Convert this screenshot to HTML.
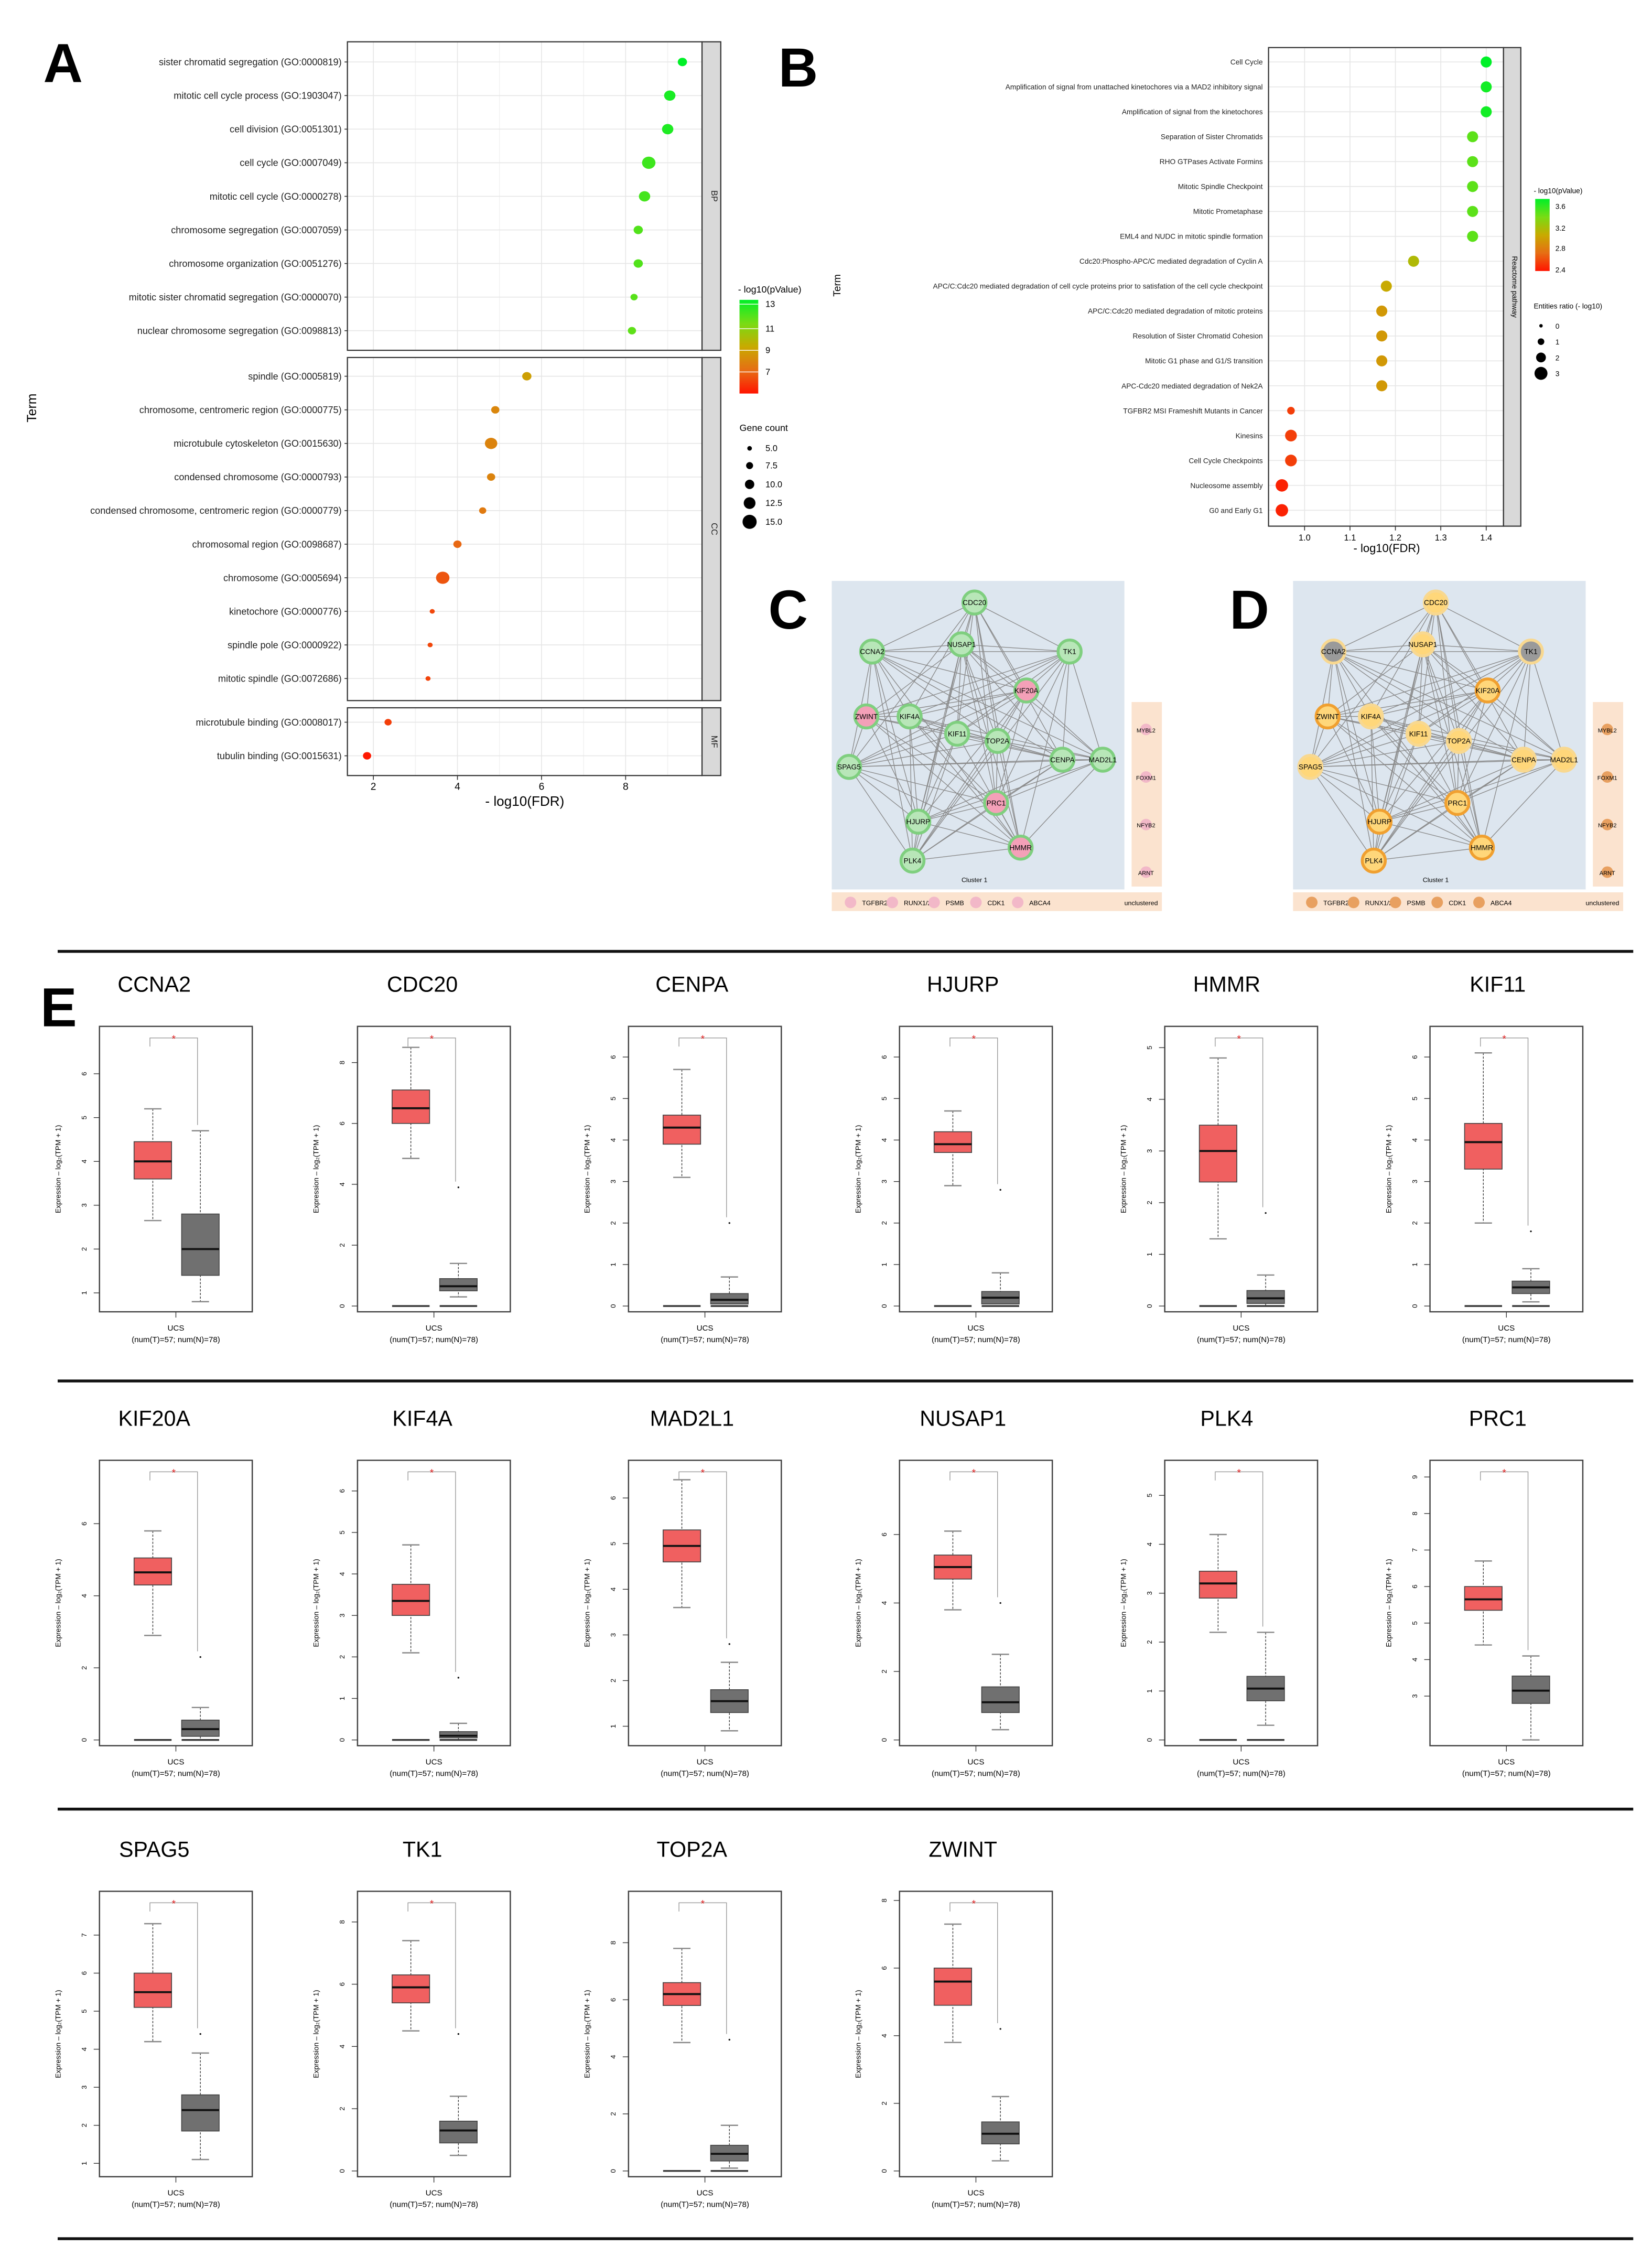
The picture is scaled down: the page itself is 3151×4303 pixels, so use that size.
<!DOCTYPE html>
<html><head><meta charset="utf-8">
<style>
html,body{margin:0;padding:0;background:#fff}
svg{display:block}
text{font-family:"Liberation Sans",sans-serif}
</style></head>
<body>
<svg id="fig" width="3151" height="4303" viewBox="0 0 1146 1565" xmlns="http://www.w3.org/2000/svg"></svg>
<script>
// ===== Panel A data =====
const aTermsBP=["sister chromatid segregation (GO:0000819)","mitotic cell cycle process (GO:1903047)","cell division (GO:0051301)","cell cycle (GO:0007049)","mitotic cell cycle (GO:0000278)","chromosome segregation (GO:0007059)","chromosome organization (GO:0051276)","mitotic sister chromatid segregation (GO:0000070)","nuclear chromosome segregation (GO:0098813)"];
const aFdrBP=[9.35,9.05,9.0,8.55,8.45,8.3,8.3,8.2,8.15];
const aCountBP=[9,11,11,13,11,9,9,7,8];
const aPBP=[13,12.6,12.5,12,11.9,11.7,11.7,11.6,11.5];
const aTermsCC=["spindle (GO:0005819)","chromosome, centromeric region (GO:0000775)","microtubule cytoskeleton (GO:0015630)","condensed chromosome (GO:0000793)","condensed chromosome, centromeric region (GO:0000779)","chromosomal region (GO:0098687)","chromosome (GO:0005694)","kinetochore (GO:0000776)","spindle pole (GO:0000922)","mitotic spindle (GO:0072686)"];
const aFdrCC=[5.65,4.9,4.8,4.8,4.6,4.0,3.65,3.4,3.35,3.3];
const aCountCC=[9,8,12,8,7,8,13,5,5,5];
const aPCC=[8.8,8.0,7.9,7.9,7.6,7.1,6.7,6.4,6.4,6.3];
const aTermsMF=["microtubule binding (GO:0008017)","tubulin binding (GO:0015631)"];
const aFdrMF=[2.35,1.85];
const aCountMF=[7,8];
const aPMF=[6.2,5.4];
const aXTicks=[2,4,6,8];
// ===== Panel B data =====
const bTerms=["Cell Cycle","Amplification of signal from unattached kinetochores via a MAD2 inhibitory signal","Amplification of signal from the kinetochores","Separation of Sister Chromatids","RHO GTPases Activate Formins","Mitotic Spindle Checkpoint","Mitotic Prometaphase","EML4 and NUDC in mitotic spindle formation","Cdc20:Phospho-APC/C mediated degradation of Cyclin A","APC/C:Cdc20 mediated degradation of cell cycle proteins prior to satisfation of the cell cycle checkpoint","APC/C:Cdc20 mediated degradation of mitotic proteins","Resolution of Sister Chromatid Cohesion","Mitotic G1 phase and G1/S transition","APC-Cdc20 mediated degradation of Nek2A","TGFBR2 MSI Frameshift Mutants in Cancer","Kinesins","Cell Cycle Checkpoints","Nucleosome assembly","G0 and Early G1"];
const bFdr=[1.40,1.40,1.40,1.37,1.37,1.37,1.37,1.37,1.24,1.18,1.17,1.17,1.17,1.17,0.97,0.97,0.97,0.95,0.95];
const bP=[3.7,3.6,3.6,3.4,3.4,3.4,3.4,3.4,3.1,3.0,2.9,2.9,2.9,2.9,2.5,2.5,2.5,2.4,2.4];
const bRatio=[2.2,2.2,2.2,2.2,2.2,2.2,2.2,2.2,2.2,2.2,2.2,2.2,2.2,2.2,1.2,2.4,2.4,2.6,2.6];
const bXTicks=[1.0,1.1,1.2,1.3,1.4];
// ===== Panel E data =====
const eGenes=["CCNA2","CDC20","CENPA","HJURP","HMMR","KIF11","KIF20A","KIF4A","MAD2L1","NUSAP1","PLK4","PRC1","SPAG5","TK1","TOP2A","ZWINT"];
const eYMin=[0.7,0,0,0,0,0,0,0,0.7,0,0,1.8,0.8,0,0,0];
const eYMax=[6.95,9,6.6,6.6,5.3,6.6,7.6,6.6,6.7,8,5.6,9.3,8,8.8,9.6,8.1];
const eTicks=[[1,2,3,4,5,6],[0,2,4,6,8],[0,1,2,3,4,5,6],[0,1,2,3,4,5,6],[0,1,2,3,4,5],[0,1,2,3,4,5,6],[0,2,4,6],[0,1,2,3,4,5,6],[1,2,3,4,5,6],[0,2,4,6],[0,1,2,3,4,5],[3,4,5,6,7,8,9],[1,2,3,4,5,6,7],[0,2,4,6,8],[0,2,4,6,8],[0,2,4,6,8]];
// tumor: q1, median, q3, whisker low, whisker high
const eTumor=[[3.6,4.0,4.45,2.65,5.2],[6.0,6.5,7.1,4.85,8.5],[3.9,4.3,4.6,3.1,5.7],[3.7,3.9,4.2,2.9,4.7],[2.4,3.0,3.5,1.3,4.8],[3.3,3.95,4.4,2.0,6.1],[4.3,4.65,5.05,2.9,5.8],[3.0,3.35,3.75,2.1,4.7],[4.6,4.95,5.3,3.6,6.4],[4.7,5.05,5.4,3.8,6.1],[2.9,3.2,3.45,2.2,4.2],[5.35,5.65,6.0,4.4,6.7],[5.1,5.5,6.0,4.2,7.3],[5.4,5.9,6.3,4.5,7.4],[5.8,6.2,6.6,4.5,7.8],[4.9,5.6,6.0,3.8,7.3]];
const eNormal=[[1.4,2.0,2.8,0.8,4.7],[0.5,0.65,0.9,0.3,1.4],[0.05,0.15,0.3,0,0.7],[0.05,0.2,0.35,0,0.8],[0.05,0.15,0.3,0,0.6],[0.3,0.45,0.6,0.1,0.9],[0.1,0.3,0.55,0,0.9],[0.05,0.1,0.2,0,0.4],[1.3,1.55,1.8,0.9,2.4],[0.8,1.1,1.55,0.3,2.5],[0.8,1.05,1.3,0.3,2.2],[2.8,3.15,3.55,1.8,4.1],[1.85,2.4,2.8,1.1,3.9],[0.9,1.3,1.6,0.5,2.4],[0.35,0.6,0.9,0.1,1.6],[0.8,1.1,1.45,0.3,2.2]];
const eNormalOutlier=[null,3.9,2.0,2.8,1.8,1.8,2.3,1.5,2.8,4.0,null,null,4.4,4.4,4.6,4.2];
const eZeroBar=[false,true,true,true,true,true,true,true,false,false,true,false,false,false,true,false];

const NS="http://www.w3.org/2000/svg";
const svg=document.getElementById('fig');
function el(tag,attrs,parent,txt){const e=document.createElementNS(NS,tag);for(const k in attrs)e.setAttribute(k,attrs[k]);if(txt!==undefined)e.textContent=txt;(parent||svg).appendChild(e);return e;}
function grp(name){const g=el('g',{});return g;}
function lerpC(a,b,t){return [0,1,2].map(i=>Math.round(a[i]+(b[i]-a[i])*t));}
function gradColor(t){
  t=Math.max(0,Math.min(1,t));
  const stops=[[255,20,0],[230,110,20],[200,170,0],[120,220,20],[0,240,40]];
  const s=t*(stops.length-1),i=Math.min(stops.length-2,Math.floor(s));
  const c=lerpC(stops[i],stops[i+1],s-i);return `rgb(${c})`;
}

// ===== Panel A =====
(function(){
  const g=grp('panel-a');
  const lt=el('text',{x:30,y:57,'font-size':38,'font-weight':'bold'},g,'A');
  
  const x0=241,x1=487;
  const xs=v=>259+(v-2)*(434-259)/6;
  const facets=[{name:'BP',y0:29,y1:243,terms:aTermsBP,f:aFdrBP,c:aCountBP,p:aPBP,first:43},
                {name:'CC',y0:248,y1:486,terms:aTermsCC,f:aFdrCC,c:aCountCC,p:aPCC,first:261},
                {name:'MF',y0:491,y1:538,terms:aTermsMF,f:aFdrMF,c:aCountMF,p:aPMF,first:501}];
  const step=23.3;
  facets.forEach(fc=>{
    const fg=el('g',{},g);
    el('rect',{x:x0,y:fc.y0,width:x1-x0,height:fc.y1-fc.y0,fill:'#fff'},fg);
    [1,2,3,4,5,6,7,8,9].forEach(v=>{const x=xs(v);if(x>x0&&x<x1)el('line',{x1:x,x2:x,y1:fc.y0,y2:fc.y1,stroke:v%2==0?'#e6e6e6':'#f2f2f2','stroke-width':0.6},fg);});
    fc.terms.forEach((t,i)=>{
      const y=fc.first+i*step;
      el('line',{x1:x0,x2:x1,y1:y,y2:y,stroke:'#e6e6e6','stroke-width':0.6},fg);
      const lab=el('text',{x:x0-4,y:y+2.3,'font-size':6.6,'text-anchor':'end',fill:'#222'},fg,t);
      
      el('line',{x1:x0-2,x2:x0,y1:y,y2:y,stroke:'#333','stroke-width':0.6},fg);
      const r=1.6+(fc.c[i]-5)*0.33;
      const d=el('ellipse',{cx:xs(fc.f[i]),cy:y,rx:r*1.1,ry:r,fill:gradColor((fc.p[i]-5.3)/7.7)},fg);
      
    });
    el('rect',{x:x0,y:fc.y0,width:x1-x0,height:fc.y1-fc.y0,fill:'none',stroke:'#333','stroke-width':0.8},fg);
    el('rect',{x:x1,y:fc.y0,width:13,height:fc.y1-fc.y0,fill:'#d9d9d9',stroke:'#333','stroke-width':0.8},fg);
    const sm=(fc.y0+fc.y1)/2;
    const st=el('text',{x:x1+6.5,y:sm,'font-size':6,'text-anchor':'middle',transform:`rotate(90 ${x1+6.5} ${sm})`,fill:'#222'},fg,fc.name);
    
  });
  aXTicks.forEach(v=>{const x=xs(v);el('line',{x1:x,x2:x,y1:538,y2:541,stroke:'#333','stroke-width':0.6},g);
    const t=el('text',{x:x,y:548,'font-size':7,'text-anchor':'middle'},g,String(v));});
  const xt=el('text',{x:364,y:559,'font-size':9.5,'text-anchor':'middle'},g,'- log10(FDR)');
  const yt=el('text',{x:25,y:283,'font-size':9,'text-anchor':'middle',transform:'rotate(-90 25 283)'},g,'Term');
  const lg=el('g',{},g);
  el('text',{x:512,y:203,'font-size':6.5},lg,'- log10(pValue)');
  const defs=el('defs',{},svg);const lgd=el('linearGradient',{id:'gA',x1:0,y1:1,x2:0,y2:0},defs);
  [0,0.25,0.5,0.75,1].forEach(o=>el('stop',{offset:o,'stop-color':gradColor(o)},lgd));
  el('rect',{x:513,y:208,width:13,height:65,fill:'url(#gA)'},lg);
  [[13,211],[11,228],[9,243],[7,258]].forEach(([v,y])=>{el('line',{x1:513,x2:526,y1:y,y2:y,stroke:'#fff','stroke-width':0.5},lg);el('text',{x:531,y:y+2,'font-size':6},lg,String(v));});
  const lg2=el('g',{},g);
  el('text',{x:513,y:299,'font-size':6.5},lg2,'Gene count');
  [[5,311],[7.5,323],[10,336],[12.5,349],[15,362]].forEach(([v,y])=>{el('circle',{cx:520,cy:y,r:1.6+(v-5)*0.33},lg2);el('text',{x:531,y:y+2,'font-size':6},lg2,v.toFixed(1));});
})();

// ===== Panel B =====
(function(){
  const g=grp('panel-b');
  const lt=el('text',{x:540,y:60,'font-size':38,'font-weight':'bold'},g,'B');
  const x0=880,x1=1043,y0=33,y1=365;
  const xs=v=>905+(v-1.0)*(1031-905)/0.4;
  el('rect',{x:x0,y:y0,width:x1-x0,height:y1-y0,fill:'#fff'},g);
  bXTicks.forEach(v=>el('line',{x1:xs(v),x2:xs(v),y1:y0,y2:y1,stroke:'#e6e6e6','stroke-width':0.6},g));
  const step=(354-43)/18;
  bTerms.forEach((t,i)=>{
    const y=43+i*step;
    el('line',{x1:x0,x2:x1,y1:y,y2:y,stroke:'#e6e6e6','stroke-width':0.6},g);
    const lab=el('text',{x:x0-4,y:y+1.8,'font-size':5,'text-anchor':'end',fill:'#222'},g,t);
    const r=1.2+bRatio[i]*1.2;
    const d=el('circle',{cx:xs(bFdr[i]),cy:y,r:r,fill:gradColor((bP[i]-2.35)/1.3)},g);
  });
  el('rect',{x:x0,y:y0,width:x1-x0,height:y1-y0,fill:'none',stroke:'#333','stroke-width':0.8},g);
  el('rect',{x:x1,y:y0,width:12,height:y1-y0,fill:'#d9d9d9',stroke:'#333','stroke-width':0.8},g);
  el('text',{x:x1+6,y:199,'font-size':5,'text-anchor':'middle',transform:`rotate(90 ${x1+6} 199)`},g,'Reactome pathway');
  bXTicks.forEach(v=>{el('line',{x1:xs(v),x2:xs(v),y1:y1,y2:y1+3,stroke:'#333','stroke-width':0.6},g);
    const t=el('text',{x:xs(v),y:y1+10,'font-size':6,'text-anchor':'middle'},g,v.toFixed(1));});
  const xt=el('text',{x:962,y:383,'font-size':8,'text-anchor':'middle'},g,'- log10(FDR)');
  const yt=el('text',{x:583,y:198,'font-size':7,'text-anchor':'middle',transform:'rotate(-90 583 198)'},g,'Term');
  const lg=el('g',{},g);
  el('text',{x:1064,y:134,'font-size':5},lg,'- log10(pValue)');
  el('rect',{x:1065,y:138,width:10,height:50,fill:'url(#gA)'},lg);
  [[3.6,145],[3.2,160],[2.8,174],[2.4,189]].forEach(([v,y])=>el('text',{x:1079,y:y,'font-size':5},lg,v.toFixed(1)));
  const lg2=el('g',{},g);
  el('text',{x:1064,y:214,'font-size':5},lg2,'Entities ratio (- log10)');
  [[0,226],[1,237],[2,248],[3,259]].forEach(([v,y])=>{el('circle',{cx:1069,cy:y,r:1.2+v*1.1},lg2);el('text',{x:1079,y:y+2,'font-size':5},lg2,String(v));});
})();

// ===== Panels C & D (networks) =====
const netNodes=[["CDC20",676,418],["NUSAP1",667,447],["CCNA2",605,452],["TK1",742,452],["KIF20A",712,479],["ZWINT",601,497],["KIF4A",631,497],["KIF11",664,509],["TOP2A",692,514],["CENPA",737,527],["MAD2L1",765,527],["SPAG5",589,532],["PRC1",691,557],["HJURP",637,570],["HMMR",708,588],["PLK4",633,597]];
function network(dx,name,letter,fillFn,strokeFn){
  const g=grp(name);
  const lt=el('text',{x:533+dx,y:436,'font-size':38,'font-weight':'bold'},g,letter);
  el('rect',{x:577+dx,y:403,width:203,height:214,fill:'#dde6ef'},g);
  el('rect',{x:785+dx,y:487,width:21,height:128,fill:'#fbe3cf'},g);
  el('rect',{x:577+dx,y:619,width:229,height:13,fill:'#fbe3cf'},g);
  ["MYBL2","FOXM1","NFYB2","ARNT"].forEach((s,i)=>{el('circle',{cx:795+dx,cy:506+i*33,r:4,fill:fillFn('side')},g);el('text',{x:795+dx,y:508+i*33,'font-size':4,'text-anchor':'middle'},g,s);});
  ["TGFBR2","RUNX1/2B","PSMB","CDK1","ABCA4"].forEach((s,i)=>{el('circle',{cx:590+dx+i*29,cy:626,r:4,fill:fillFn('side')},g);el('text',{x:598+dx+i*29,y:628,'font-size':4.5},g,s);});
  el('text',{x:780+dx,y:628,'font-size':4.5},g,'unclustered');
  el('text',{x:676+dx,y:612,'font-size':4.5,'text-anchor':'middle'},g,'Cluster 1');
  for(let i=0;i<netNodes.length;i++)for(let j=i+1;j<netNodes.length;j++){
    if((i*7+j*3)%5===0)continue;
    el('line',{x1:netNodes[i][1]+dx,y1:netNodes[i][2],x2:netNodes[j][1]+dx,y2:netNodes[j][2],stroke:'#8a8a8a','stroke-width':0.5},g);
  }
  netNodes.forEach(n=>{
    const c=el('circle',{cx:n[1]+dx,cy:n[2],r:8,fill:fillFn(n[0]),stroke:strokeFn(n[0]),'stroke-width':2},g);
    
    el('text',{x:n[1]+dx,y:n[2]+1.8,'font-size':5,'text-anchor':'middle'},g,n[0]);
  });
}
const pink=["ZWINT","KIF20A","PRC1","HMMR"];
network(0,'panel-c','C',n=>n==='side'?'#f2b8c8':(pink.includes(n)?'#f4a0b8':'#b8e6b8'),n=>'#7fcf7f');
network(320,'panel-d','D',n=>n==='side'?'#e8a060':(n==='CCNA2'||n==='TK1'?'#9a9a9a':'#ffd77a'),n=>(pink.includes(n)||n==='HJURP'||n==='PLK4')?'#f0a030':'#f8d890');

// ===== Panel E =====
(function(){
  const g=grp('panel-e');
  [660,958,1255,1553].forEach(y=>{const l=el('line',{x1:40,x2:1133,y1:y,y2:y,stroke:'#111','stroke-width':2},g);});
  const lt=el('text',{x:28,y:712,'font-size':38,'font-weight':'bold'},g,'E');
  const colL=[69,248,436,624,808,992];
  const titleX=[107,293,480,668,851,1039];
  const rowT=[712,1013,1312];
  eGenes.forEach((gene,k)=>{
    const r=Math.floor(k/6),c=k%6;
    const fx=colL[c],fy=rowT[r],fw=106,fh=198;
    const pg=el('g',{},g);
    const tt=el('text',{x:titleX[c],y:fy-24,'font-size':15,'text-anchor':'middle'},pg,gene);
    el('rect',{x:fx,y:fy,width:fw,height:fh,fill:'#fff',stroke:'#444','stroke-width':0.9},pg);
    const ys=v=>fy+fh-4-(v-eYMin[k])/(eYMax[k]-eYMin[k])*(fh-8);
    eTicks[k].forEach(v=>{const y=ys(v);el('line',{x1:fx-4,x2:fx,y1:y,y2:y,stroke:'#333','stroke-width':0.5},pg);
      const t=el('text',{x:fx-9,y:y,'font-size':4.8,'text-anchor':'middle',transform:`rotate(-90 ${fx-9} ${y})`},pg,String(v));});
    el('text',{x:fx-27,y:fy+fh/2,'font-size':5,'text-anchor':'middle',transform:`rotate(-90 ${fx-27} ${fy+fh/2})`},pg,'Expression – log\u2082(TPM + 1)');
    const cxT=fx+37,cxN=fx+70,bw=26;
    function box(cx,d,fill,name){
      const bg=el('g',{},pg);
      el('line',{x1:cx,x2:cx,y1:ys(d[4]),y2:ys(d[3]),stroke:'#333','stroke-width':0.5,'stroke-dasharray':'1.5,1'},bg);
      el('line',{x1:cx-6,x2:cx+6,y1:ys(d[4]),y2:ys(d[4]),stroke:'#888','stroke-width':0.9},bg);
      el('line',{x1:cx-6,x2:cx+6,y1:ys(d[3]),y2:ys(d[3]),stroke:'#888','stroke-width':0.9},bg);
      el('rect',{x:cx-bw/2,y:ys(d[2]),width:bw,height:Math.max(1,ys(d[0])-ys(d[2])),fill:fill,stroke:'#444','stroke-width':0.6},bg);
      el('line',{x1:cx-bw/2,x2:cx+bw/2,y1:ys(d[1]),y2:ys(d[1]),stroke:'#111','stroke-width':1.4},bg);
    }
    box(cxT,eTumor[k],'#f06060','tumor-box');
    box(cxN,eNormal[k],'#707070','normal-box');
    if(eZeroBar[k]){el('line',{x1:cxT-bw/2,x2:cxT+bw/2,y1:ys(0),y2:ys(0),stroke:'#333','stroke-width':1.2},pg);el('line',{x1:cxN-bw/2,x2:cxN+bw/2,y1:ys(0),y2:ys(0),stroke:'#333','stroke-width':1.2},pg);}
    if(eNormalOutlier[k]!==null)el('circle',{cx:cxN,cy:ys(eNormalOutlier[k]),r:0.6,fill:'#111'},pg);
    const by=fy+8;
    el('path',{d:`M${cxT-2} ${by+6}V${by}H${cxN-2}V${ys(Math.max(eNormal[k][4],eNormalOutlier[k]||0))-4}`,fill:'none',stroke:'#999','stroke-width':0.5},pg);
    el('text',{x:(cxT+cxN)/2-2,y:by+3,'font-size':7,fill:'#e02020','text-anchor':'middle'},pg,'*');
    el('line',{x1:fx+53,x2:fx+53,y1:fy+fh,y2:fy+fh+4,stroke:'#333','stroke-width':0.5},pg);
    el('text',{x:fx+53,y:fy+fh+13,'font-size':5.5,'text-anchor':'middle'},pg,'UCS');
    el('text',{x:fx+53,y:fy+fh+21,'font-size':5.5,'text-anchor':'middle'},pg,'(num(T)=57; num(N)=78)');
  });
})();
</script>
</body></html>
